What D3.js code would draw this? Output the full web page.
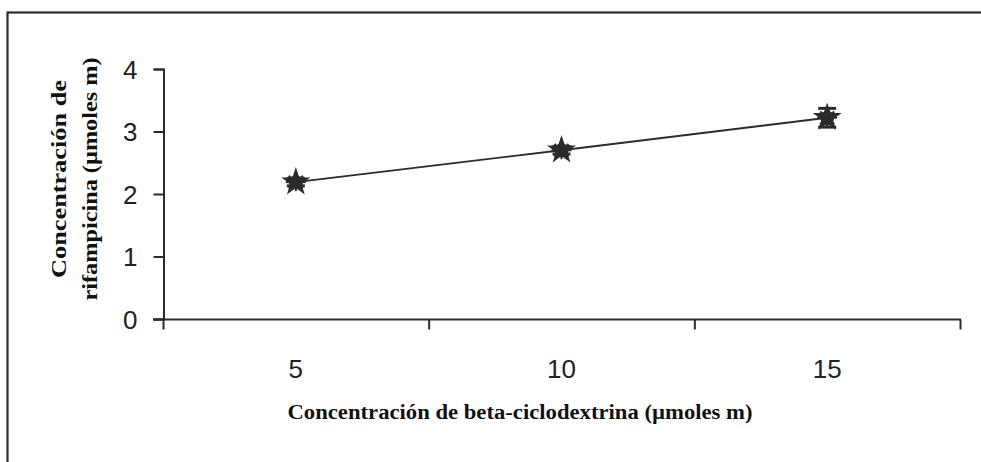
<!DOCTYPE html>
<html>
<head>
<meta charset="utf-8">
<script src="https://cdn.jsdelivr.net/npm/d3@7"></script>
<style>
  html, body { margin: 0; padding: 0; background: #fff; }
  svg { display: block; }
</style>
</head>
<body>
<svg id="chart" width="981" height="462"></svg>
<script>
// Rifampicin concentration vs. beta-cyclodextrin concentration
const categories = ["5", "10", "15"];
const values = [2.19, 2.70, 3.22];
const errors = [0.06, 0.06, 0.15];
const yTicks = [0, 1, 2, 3, 4];
const xTitle = "Concentración de beta-ciclodextrina (µmoles m)";
const yTitleLines = ["Concentración de", "rifampicina (µmoles m)"];

const svg = d3.select("#chart");
const ink = "#2b2b2b";

// outer frame (open to right and bottom edges)
svg.append("rect")
  .attr("x", 7.5).attr("y", 12.5)
  .attr("width", 990).attr("height", 470)
  .attr("fill", "none").attr("stroke", ink).attr("stroke-width", 2.2);

const x = d3.scaleBand().domain(categories).range([163, 960]).paddingInner(0).paddingOuter(0);
const y = d3.scaleLinear().domain([0, 4]).range([319, 69]);

// y axis
const yAxis = svg.append("g").attr("transform", "translate(163.5,0)")
  .call(d3.axisLeft(y).tickValues(yTicks).tickSize(10).tickPadding(16).tickFormat(d3.format("d")));
yAxis.select(".domain").attr("stroke", ink).attr("stroke-width", 2);
yAxis.selectAll(".tick line").attr("stroke", ink).attr("stroke-width", 2);
yAxis.selectAll(".tick text")
  .attr("fill", "#222").attr("font-family", "'Liberation Sans', Arial, sans-serif")
  .attr("font-size", 26).attr("dy", "0.36em");

// x axis line with ticks at category boundaries
const xAxis = svg.append("g").attr("transform", "translate(0,319.5)");
xAxis.append("line").attr("x1", 153).attr("x2", x.range()[1] + 1)
  .attr("stroke", ink).attr("stroke-width", 2);
const bounds = categories.map(c => x(c)).concat([x.range()[1]]);
xAxis.selectAll("line.tk").data(bounds).join("line").attr("class", "tk")
  .attr("x1", d => d + 0.5).attr("x2", d => d + 0.5)
  .attr("y1", 0).attr("y2", 10)
  .attr("stroke", ink).attr("stroke-width", 2);
xAxis.selectAll("text.lbl").data(categories).join("text").attr("class", "lbl")
  .attr("x", d => x(d) + x.bandwidth() / 2)
  .attr("y", 58)
  .attr("text-anchor", "middle")
  .attr("fill", "#222").attr("font-family", "'Liberation Sans', Arial, sans-serif")
  .attr("font-size", 26)
  .text(d => d);

// axis titles
svg.append("text")
  .attr("x", 520).attr("y", 419)
  .attr("text-anchor", "middle")
  .attr("font-family", "'Liberation Serif', 'Times New Roman', serif")
  .attr("font-weight", "bold").attr("font-size", 20).attr("fill", "#111")
  .attr("textLength", 465).attr("lengthAdjust", "spacingAndGlyphs")
  .text(xTitle);

const yTitle = svg.append("g").attr("transform", "translate(0,179) rotate(-90)");
const lineX = [66, 97];
const lineLen = [198, 243];
yTitleLines.forEach((t, i) => {
  yTitle.append("text")
    .attr("x", 0).attr("y", lineX[i])
    .attr("text-anchor", "middle")
    .attr("font-family", "'Liberation Serif', 'Times New Roman', serif")
    .attr("font-weight", "bold").attr("font-size", 21).attr("fill", "#111")
    .attr("textLength", lineLen[i]).attr("lengthAdjust", "spacingAndGlyphs")
    .text(t);
});

const cx = d => x(d) + x.bandwidth() / 2;
const pts = categories.map((c, i) => ({ c, v: values[i], e: errors[i] }));

// series line
svg.append("path")
  .datum(pts)
  .attr("fill", "none").attr("stroke", ink).attr("stroke-width", 1.8)
  .attr("d", d3.line().x(d => cx(d.c)).y(d => y(d.v)));

// error bars
const eb = svg.append("g").selectAll("g").data(pts).join("g");
eb.append("line")
  .attr("x1", d => cx(d.c)).attr("x2", d => cx(d.c))
  .attr("y1", d => y(d.v + d.e)).attr("y2", d => y(d.v - d.e))
  .attr("stroke", ink).attr("stroke-width", 3);
["+", "-"].forEach(s => {
  eb.append("line")
    .attr("x1", d => cx(d.c) - 9).attr("x2", d => cx(d.c) + 9)
    .attr("y1", d => y(s === "+" ? d.v + d.e : d.v - d.e))
    .attr("y2", d => y(s === "+" ? d.v + d.e : d.v - d.e))
    .attr("stroke", ink).attr("stroke-width", 3);
});

// markers: filled blob with short spikes
const mk = svg.append("g").selectAll("g").data(pts).join("g")
  .attr("transform", d => `translate(${cx(d.c)},${y(d.v)})`);
mk.append("circle").attr("r", 7).attr("fill", ink);
mk.append("path")
  .attr("d", d3.symbol().type(d3.symbolStar).size(260))
  .attr("fill", ink);
mk.selectAll("line").data([0, 45, 90, 135]).join("line")
  .attr("x1", a => -10 * Math.cos(a * Math.PI / 180))
  .attr("x2", a => 10 * Math.cos(a * Math.PI / 180))
  .attr("y1", a => -9 * Math.sin(a * Math.PI / 180))
  .attr("y2", a => 9 * Math.sin(a * Math.PI / 180))
  .attr("stroke", ink).attr("stroke-width", 2);
</script>
</body>
</html>
